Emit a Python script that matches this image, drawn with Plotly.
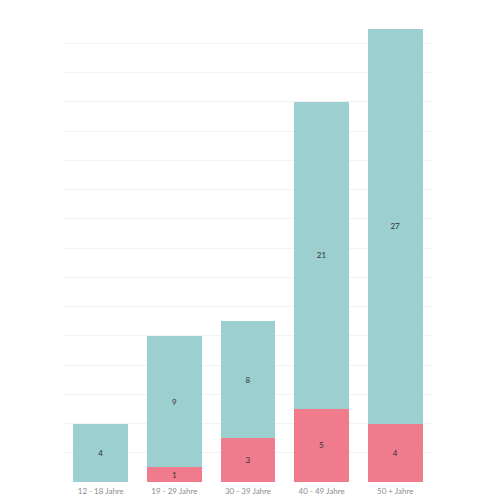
import plotly.graph_objects as go

age_groups = ["12 - 18 Jahre", "19 - 29 Jahre", "30 - 39 Jahre", "40 - 49 Jahre", "50 + Jahre"]
pink_values = [0, 1, 3, 5, 4]
teal_values = [4, 9, 8, 21, 27]

fig = go.Figure()

fig.add_trace(
    go.Bar(
        x=age_groups,
        y=pink_values,
        text=[str(v) if v else "" for v in pink_values],
        marker=dict(color="#f07b8c", line=dict(width=0)),
        showlegend=False,
    )
)
fig.add_trace(
    go.Bar(
        x=age_groups,
        y=teal_values,
        text=[str(v) for v in teal_values],
        marker=dict(color="#9bcfd0", line=dict(width=0)),
        showlegend=False,
    )
)

fig.update_traces(
    textposition="inside",
    insidetextanchor="middle",
    textangle=0,
    textfont=dict(size=8, color="#333333", family="Lato"),
    constraintext="none",
)

fig.update_layout(
    barmode="stack",
    bargap=0.258,
    autosize=False,
    width=500,
    height=500,
    margin=dict(l=56, r=76, t=6, b=26, pad=0),
    plot_bgcolor="white",
    paper_bgcolor="white",
    uniformtext=dict(minsize=8, mode="show"),
    xaxis=dict(
        showgrid=False,
        showline=False,
        ticks="",
        ticklabelstandoff=3,
        tickfont=dict(size=8, color="#8c8c8c", family="Lato"),
    ),
    yaxis=dict(
        range=[0, 32],
        dtick=2,
        showticklabels=False,
        showgrid=True,
        gridcolor="#f2f2f2",
        gridwidth=1,
        zeroline=False,
        showline=False,
    ),
)

fig.write_html("out.html")
